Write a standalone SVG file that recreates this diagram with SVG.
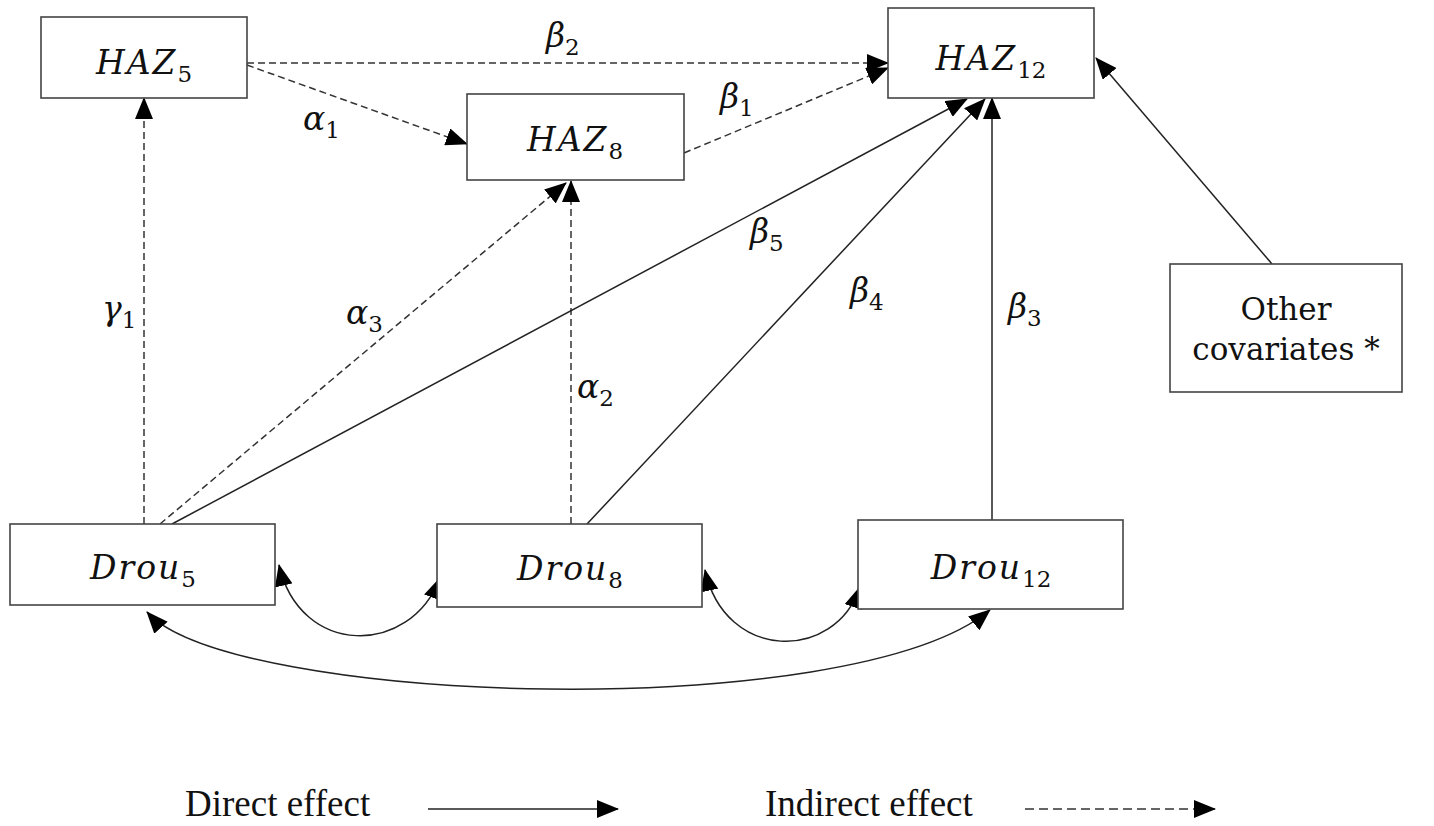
<svg xmlns="http://www.w3.org/2000/svg" width="1434" height="826" viewBox="0 0 1434 826">
<style>
.box{fill:#fff;stroke:#444;stroke-width:1.6}
.m{font-family:"DejaVu Serif","Liberation Serif",serif;font-style:italic;font-size:33px;fill:#111;letter-spacing:2px}
.g{font-family:"DejaVu Serif","Liberation Serif",serif;font-style:italic;font-size:33px;fill:#111}
.sub{font-style:normal;font-size:23px;letter-spacing:0}
.t{font-family:"DejaVu Serif","Liberation Serif",serif;font-size:31px;fill:#111}
.leg{font-family:"Liberation Serif","Times New Roman",serif;font-size:37px;fill:#111}
.s{fill:none;stroke:#222;stroke-width:1.5}
.d{fill:none;stroke:#333;stroke-width:1.5;stroke-dasharray:7 4}
</style>
<defs>
<marker id="ah" markerUnits="userSpaceOnUse" markerWidth="22" markerHeight="18" refX="21" refY="9" orient="auto-start-reverse" viewBox="0 0 22 18">
<path d="M0,0 L22,9 L0,18 z" fill="#000"/>
</marker>
</defs>
<g id="connectors">
<line class="d" x1="247" y1="63" x2="888" y2="63" marker-end="url(#ah)"/>
<line class="d" x1="247" y1="65" x2="467" y2="144" marker-end="url(#ah)"/>
<line class="d" x1="684" y1="153" x2="888" y2="68" marker-end="url(#ah)"/>
<line class="d" x1="144" y1="524" x2="144" y2="98" marker-end="url(#ah)"/>
<line class="d" x1="160" y1="524" x2="566" y2="183" marker-end="url(#ah)"/>
<line class="d" x1="571" y1="524" x2="571" y2="181" marker-end="url(#ah)"/>
<line class="s" x1="172" y1="524" x2="967" y2="99" marker-end="url(#ah)"/>
<line class="s" x1="587" y1="524" x2="985" y2="99" marker-end="url(#ah)"/>
<line class="s" x1="992" y1="520" x2="992" y2="98" marker-end="url(#ah)"/>
<line class="s" x1="1272" y1="264" x2="1096" y2="58" marker-end="url(#ah)"/>
<path class="s" d="M279,565 C300,657 410,657 440,578" marker-start="url(#ah)" marker-end="url(#ah)"/>
<path class="s" d="M705,570 C725,662 835,662 860,587" marker-start="url(#ah)" marker-end="url(#ah)"/>
<path class="s" d="M147,612 C230,705 850,725 990,610" marker-start="url(#ah)" marker-end="url(#ah)"/>
</g>
<g id="labels">
<text class="g" x="546" y="47">β<tspan class="sub" dy="8">2</tspan></text>
<text class="g" x="303" y="130">α<tspan class="sub" dy="8">1</tspan></text>
<text class="g" x="720" y="108">β<tspan class="sub" dy="8">1</tspan></text>
<text class="g" x="102" y="320">γ<tspan class="sub" dy="8">1</tspan></text>
<text class="g" x="346" y="324">α<tspan class="sub" dy="8">3</tspan></text>
<text class="g" x="750" y="243">β<tspan class="sub" dy="8">5</tspan></text>
<text class="g" x="850" y="302">β<tspan class="sub" dy="8">4</tspan></text>
<text class="g" x="1008" y="318">β<tspan class="sub" dy="8">3</tspan></text>
<text class="g" x="577" y="398">α<tspan class="sub" dy="8">2</tspan></text>
</g>
<g id="HAZ5">
<rect class="box" x="41" y="17" width="206" height="81"/>
<text class="m" x="144" y="74" text-anchor="middle">HAZ<tspan class="sub" dy="8">5</tspan></text>
</g>
<g id="HAZ8">
<rect class="box" x="467" y="94" width="217" height="86"/>
<text class="m" x="575" y="151" text-anchor="middle">HAZ<tspan class="sub" dy="8">8</tspan></text>
</g>
<g id="HAZ12">
<rect class="box" x="888" y="8" width="206" height="90"/>
<text class="m" x="991" y="70" text-anchor="middle">HAZ<tspan class="sub" dy="8">12</tspan></text>
</g>
<g id="other">
<rect class="box" x="1170" y="264" width="232" height="128"/>
<text class="t" x="1286" y="320" text-anchor="middle">Other</text>
<text class="t" x="1286" y="360" text-anchor="middle">covariates *</text>
</g>
<g id="Drou5">
<rect class="box" x="10" y="524" width="265" height="81"/>
<text class="m" x="143" y="579" text-anchor="middle">Drou<tspan class="sub" dy="8">5</tspan></text>
</g>
<g id="Drou8">
<rect class="box" x="437" y="524" width="265" height="83"/>
<text class="m" x="570" y="580" text-anchor="middle">Drou<tspan class="sub" dy="8">8</tspan></text>
</g>
<g id="Drou12">
<rect class="box" x="858" y="520" width="265" height="89"/>
<text class="m" x="991" y="579" text-anchor="middle">Drou<tspan class="sub" dy="8">12</tspan></text>
</g>
<g id="legend">
<text class="leg" x="185" y="816">Direct effect</text>
<line class="s" x1="428" y1="809" x2="618" y2="809" marker-end="url(#ah)"/>
<text class="leg" x="765" y="816">Indirect effect</text>
<line class="d" x1="1025" y1="809" x2="1215" y2="809" style="stroke-dasharray:9 5" marker-end="url(#ah)"/>
</g>
</svg>
